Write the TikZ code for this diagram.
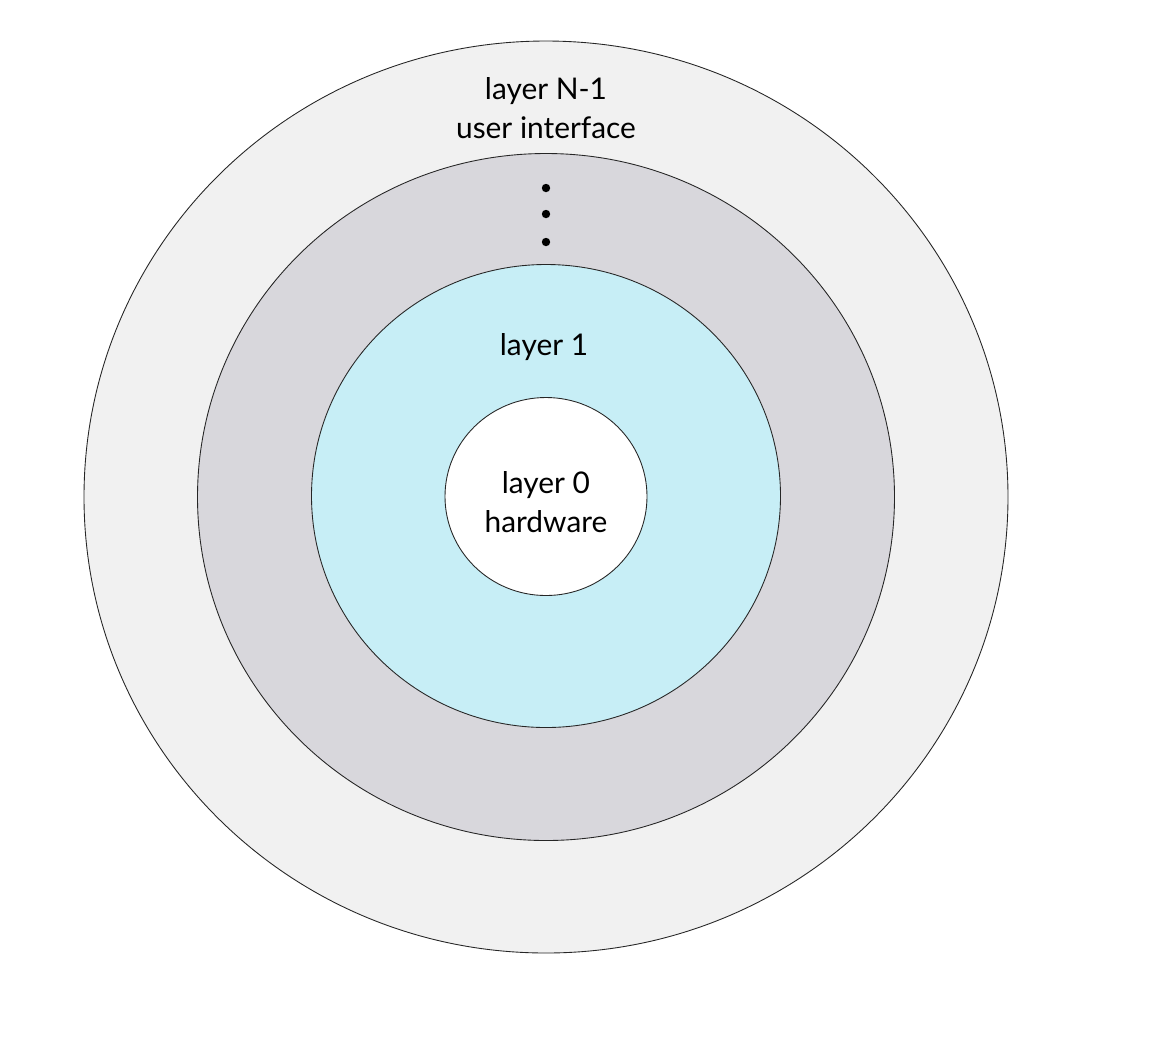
\documentclass[tikz,border=0pt]{standalone}
\usepackage{fontspec}
\setmainfont{Lato}
\definecolor{ringout}{RGB}{241,241,241}
\definecolor{ringmid}{RGB}{216,215,220}
\definecolor{ringin}{RGB}{199,238,246}
\tikzset{
  ring/.style={draw=black!85,line width=0.5pt},
  lbl/.style={font=\fontsize{17}{22}\selectfont,align=center,inner sep=0pt},
}
\begin{document}
\begin{tikzpicture}
\begin{scope}[x=0.02cm,y=-0.02cm]
\useasboundingbox (0,0) rectangle (1150,1036);

% rings
\draw[ring,fill=ringout] (546,497) ellipse [x radius=462,y radius=456];
\draw[ring,fill=ringmid] (546,497) ellipse [x radius=348.5,y radius=343.5];
\draw[ring,fill=ringin] (546,496) ellipse [x radius=234.5,y radius=231.5];
\draw[ring,fill=white] (546,496.5) ellipse [x radius=101,y radius=99];

% labels
\node[lbl] (top) at (546,108) {layer N-1\\user interface};
\node[lbl] (one) at (544,347) {layer 1};
\node[lbl] (zero) at (546,502) {layer 0\\hardware};

% dots
\foreach \y in {188,214,242}
  \fill (546,\y) circle (4.2);

\end{scope}
\end{tikzpicture}
\end{document}
